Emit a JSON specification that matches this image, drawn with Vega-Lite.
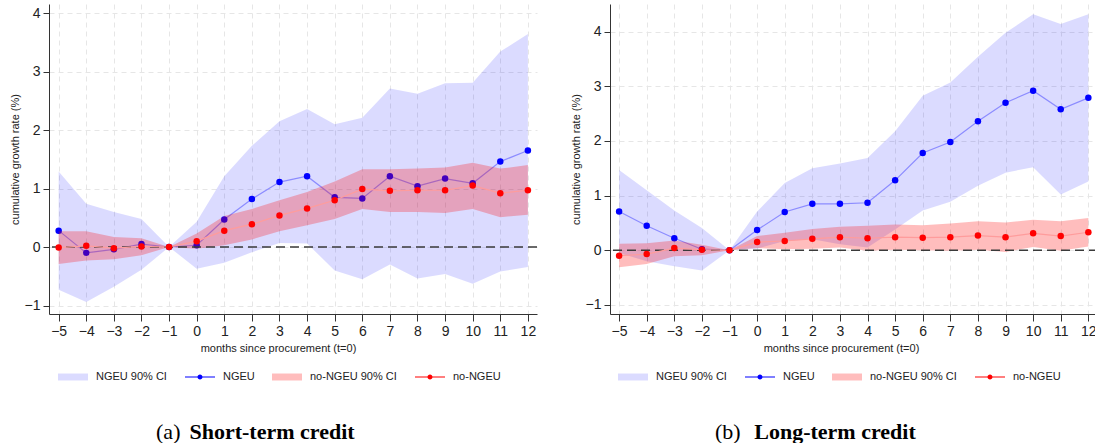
{
  "$schema": "https://vega.github.io/schema/vega-lite/v6.json",
  "background": "white",
  "padding": {"left": 9, "top": 4, "right": 0, "bottom": 0},
  "datasets": {
    "d": [
      {"p": "a", "s": "NGEU", "ci": "NGEU 90% CI", "m": -5, "est": 0.28, "lo": -0.73, "hi": 1.29},
      {"p": "a", "s": "NGEU", "ci": "NGEU 90% CI", "m": -4, "est": -0.10, "lo": -0.94, "hi": 0.74},
      {"p": "a", "s": "NGEU", "ci": "NGEU 90% CI", "m": -3, "est": -0.04, "lo": -0.68, "hi": 0.60},
      {"p": "a", "s": "NGEU", "ci": "NGEU 90% CI", "m": -2, "est": 0.05, "lo": -0.39, "hi": 0.48},
      {"p": "a", "s": "NGEU", "ci": "NGEU 90% CI", "m": -1, "est": 0, "lo": 0, "hi": 0},
      {"p": "a", "s": "NGEU", "ci": "NGEU 90% CI", "m": 0, "est": 0.03, "lo": -0.37, "hi": 0.43},
      {"p": "a", "s": "NGEU", "ci": "NGEU 90% CI", "m": 1, "est": 0.47, "lo": -0.27, "hi": 1.21},
      {"p": "a", "s": "NGEU", "ci": "NGEU 90% CI", "m": 2, "est": 0.82, "lo": -0.09, "hi": 1.73},
      {"p": "a", "s": "NGEU", "ci": "NGEU 90% CI", "m": 3, "est": 1.11, "lo": 0.07, "hi": 2.15},
      {"p": "a", "s": "NGEU", "ci": "NGEU 90% CI", "m": 4, "est": 1.21, "lo": 0.06, "hi": 2.36},
      {"p": "a", "s": "NGEU", "ci": "NGEU 90% CI", "m": 5, "est": 0.85, "lo": -0.40, "hi": 2.10},
      {"p": "a", "s": "NGEU", "ci": "NGEU 90% CI", "m": 6, "est": 0.83, "lo": -0.55, "hi": 2.21},
      {"p": "a", "s": "NGEU", "ci": "NGEU 90% CI", "m": 7, "est": 1.21, "lo": -0.30, "hi": 2.71},
      {"p": "a", "s": "NGEU", "ci": "NGEU 90% CI", "m": 8, "est": 1.04, "lo": -0.54, "hi": 2.62},
      {"p": "a", "s": "NGEU", "ci": "NGEU 90% CI", "m": 9, "est": 1.17, "lo": -0.46, "hi": 2.80},
      {"p": "a", "s": "NGEU", "ci": "NGEU 90% CI", "m": 10, "est": 1.09, "lo": -0.63, "hi": 2.81},
      {"p": "a", "s": "NGEU", "ci": "NGEU 90% CI", "m": 11, "est": 1.46, "lo": -0.42, "hi": 3.34},
      {"p": "a", "s": "NGEU", "ci": "NGEU 90% CI", "m": 12, "est": 1.65, "lo": -0.34, "hi": 3.64},
      {"p": "a", "s": "no-NGEU", "ci": "no-NGEU 90% CI", "m": -5, "est": -0.01, "lo": -0.29, "hi": 0.27},
      {"p": "a", "s": "no-NGEU", "ci": "no-NGEU 90% CI", "m": -4, "est": 0.02, "lo": -0.23, "hi": 0.27},
      {"p": "a", "s": "no-NGEU", "ci": "no-NGEU 90% CI", "m": -3, "est": -0.02, "lo": -0.21, "hi": 0.17},
      {"p": "a", "s": "no-NGEU", "ci": "no-NGEU 90% CI", "m": -2, "est": 0.01, "lo": -0.14, "hi": 0.15},
      {"p": "a", "s": "no-NGEU", "ci": "no-NGEU 90% CI", "m": -1, "est": 0, "lo": 0, "hi": 0},
      {"p": "a", "s": "no-NGEU", "ci": "no-NGEU 90% CI", "m": 0, "est": 0.10, "lo": -0.03, "hi": 0.23},
      {"p": "a", "s": "no-NGEU", "ci": "no-NGEU 90% CI", "m": 1, "est": 0.28, "lo": 0.03, "hi": 0.53},
      {"p": "a", "s": "no-NGEU", "ci": "no-NGEU 90% CI", "m": 2, "est": 0.39, "lo": 0.13, "hi": 0.65},
      {"p": "a", "s": "no-NGEU", "ci": "no-NGEU 90% CI", "m": 3, "est": 0.54, "lo": 0.27, "hi": 0.80},
      {"p": "a", "s": "no-NGEU", "ci": "no-NGEU 90% CI", "m": 4, "est": 0.66, "lo": 0.37, "hi": 0.94},
      {"p": "a", "s": "no-NGEU", "ci": "no-NGEU 90% CI", "m": 5, "est": 0.80, "lo": 0.48, "hi": 1.12},
      {"p": "a", "s": "no-NGEU", "ci": "no-NGEU 90% CI", "m": 6, "est": 0.99, "lo": 0.65, "hi": 1.33},
      {"p": "a", "s": "no-NGEU", "ci": "no-NGEU 90% CI", "m": 7, "est": 0.96, "lo": 0.60, "hi": 1.33},
      {"p": "a", "s": "no-NGEU", "ci": "no-NGEU 90% CI", "m": 8, "est": 0.97, "lo": 0.60, "hi": 1.34},
      {"p": "a", "s": "no-NGEU", "ci": "no-NGEU 90% CI", "m": 9, "est": 0.97, "lo": 0.58, "hi": 1.36},
      {"p": "a", "s": "no-NGEU", "ci": "no-NGEU 90% CI", "m": 10, "est": 1.05, "lo": 0.65, "hi": 1.44},
      {"p": "a", "s": "no-NGEU", "ci": "no-NGEU 90% CI", "m": 11, "est": 0.92, "lo": 0.51, "hi": 1.34},
      {"p": "a", "s": "no-NGEU", "ci": "no-NGEU 90% CI", "m": 12, "est": 0.97, "lo": 0.55, "hi": 1.40},
      {"p": "b", "s": "NGEU", "ci": "NGEU 90% CI", "m": -5, "est": 0.71, "lo": -0.05, "hi": 1.47},
      {"p": "b", "s": "NGEU", "ci": "NGEU 90% CI", "m": -4, "est": 0.45, "lo": -0.20, "hi": 1.10},
      {"p": "b", "s": "NGEU", "ci": "NGEU 90% CI", "m": -3, "est": 0.22, "lo": -0.29, "hi": 0.73},
      {"p": "b", "s": "NGEU", "ci": "NGEU 90% CI", "m": -2, "est": 0.02, "lo": -0.37, "hi": 0.41},
      {"p": "b", "s": "NGEU", "ci": "NGEU 90% CI", "m": -1, "est": 0, "lo": 0, "hi": 0},
      {"p": "b", "s": "NGEU", "ci": "NGEU 90% CI", "m": 0, "est": 0.37, "lo": 0.03, "hi": 0.71},
      {"p": "b", "s": "NGEU", "ci": "NGEU 90% CI", "m": 1, "est": 0.70, "lo": 0.17, "hi": 1.23},
      {"p": "b", "s": "NGEU", "ci": "NGEU 90% CI", "m": 2, "est": 0.85, "lo": 0.20, "hi": 1.50},
      {"p": "b", "s": "NGEU", "ci": "NGEU 90% CI", "m": 3, "est": 0.85, "lo": 0.11, "hi": 1.59},
      {"p": "b", "s": "NGEU", "ci": "NGEU 90% CI", "m": 4, "est": 0.87, "lo": 0.05, "hi": 1.69},
      {"p": "b", "s": "NGEU", "ci": "NGEU 90% CI", "m": 5, "est": 1.28, "lo": 0.38, "hi": 2.18},
      {"p": "b", "s": "NGEU", "ci": "NGEU 90% CI", "m": 6, "est": 1.78, "lo": 0.73, "hi": 2.83},
      {"p": "b", "s": "NGEU", "ci": "NGEU 90% CI", "m": 7, "est": 1.98, "lo": 0.89, "hi": 3.07},
      {"p": "b", "s": "NGEU", "ci": "NGEU 90% CI", "m": 8, "est": 2.36, "lo": 1.18, "hi": 3.54},
      {"p": "b", "s": "NGEU", "ci": "NGEU 90% CI", "m": 9, "est": 2.70, "lo": 1.42, "hi": 3.98},
      {"p": "b", "s": "NGEU", "ci": "NGEU 90% CI", "m": 10, "est": 2.92, "lo": 1.52, "hi": 4.32},
      {"p": "b", "s": "NGEU", "ci": "NGEU 90% CI", "m": 11, "est": 2.58, "lo": 1.02, "hi": 4.14},
      {"p": "b", "s": "NGEU", "ci": "NGEU 90% CI", "m": 12, "est": 2.79, "lo": 1.26, "hi": 4.32},
      {"p": "b", "s": "no-NGEU", "ci": "no-NGEU 90% CI", "m": -5, "est": -0.10, "lo": -0.31, "hi": 0.12},
      {"p": "b", "s": "no-NGEU", "ci": "no-NGEU 90% CI", "m": -4, "est": -0.07, "lo": -0.25, "hi": 0.13},
      {"p": "b", "s": "no-NGEU", "ci": "no-NGEU 90% CI", "m": -3, "est": 0.04, "lo": -0.11, "hi": 0.18},
      {"p": "b", "s": "no-NGEU", "ci": "no-NGEU 90% CI", "m": -2, "est": 0.01, "lo": -0.09, "hi": 0.10},
      {"p": "b", "s": "no-NGEU", "ci": "no-NGEU 90% CI", "m": -1, "est": 0, "lo": 0, "hi": 0},
      {"p": "b", "s": "no-NGEU", "ci": "no-NGEU 90% CI", "m": 0, "est": 0.15, "lo": 0.04, "hi": 0.26},
      {"p": "b", "s": "no-NGEU", "ci": "no-NGEU 90% CI", "m": 1, "est": 0.17, "lo": 0.02, "hi": 0.32},
      {"p": "b", "s": "no-NGEU", "ci": "no-NGEU 90% CI", "m": 2, "est": 0.21, "lo": 0.03, "hi": 0.39},
      {"p": "b", "s": "no-NGEU", "ci": "no-NGEU 90% CI", "m": 3, "est": 0.24, "lo": 0.05, "hi": 0.43},
      {"p": "b", "s": "no-NGEU", "ci": "no-NGEU 90% CI", "m": 4, "est": 0.22, "lo": -0.01, "hi": 0.45},
      {"p": "b", "s": "no-NGEU", "ci": "no-NGEU 90% CI", "m": 5, "est": 0.24, "lo": 0.01, "hi": 0.47},
      {"p": "b", "s": "no-NGEU", "ci": "no-NGEU 90% CI", "m": 6, "est": 0.23, "lo": 0.00, "hi": 0.46},
      {"p": "b", "s": "no-NGEU", "ci": "no-NGEU 90% CI", "m": 7, "est": 0.24, "lo": -0.01, "hi": 0.49},
      {"p": "b", "s": "no-NGEU", "ci": "no-NGEU 90% CI", "m": 8, "est": 0.27, "lo": 0.01, "hi": 0.53},
      {"p": "b", "s": "no-NGEU", "ci": "no-NGEU 90% CI", "m": 9, "est": 0.24, "lo": -0.03, "hi": 0.51},
      {"p": "b", "s": "no-NGEU", "ci": "no-NGEU 90% CI", "m": 10, "est": 0.31, "lo": 0.06, "hi": 0.56},
      {"p": "b", "s": "no-NGEU", "ci": "no-NGEU 90% CI", "m": 11, "est": 0.26, "lo": -0.01, "hi": 0.53},
      {"p": "b", "s": "no-NGEU", "ci": "no-NGEU 90% CI", "m": 12, "est": 0.33, "lo": 0.07, "hi": 0.59}
    ]
  },
  "data": {"name": "d"},
  "resolve": {"scale": {"color": "independent", "fill": "independent"}, "legend": {"color": "independent", "fill": "independent"}},
  "spacing": 32,
  "hconcat": [
    {
      "resolve": {"scale": {"color": "independent", "fill": "independent"}, "legend": {"color": "independent", "fill": "independent"}},
      "title": {"text": "(a)", "orient": "bottom", "anchor": "start", "frame": "bounds", "font": "Liberation Serif", "fontSize": 22, "fontWeight": "normal", "color": "#000", "baseline": "alphabetic", "offset": -4, "dx": 147},
      "vconcat": [
        {
          "width": 488,
          "height": 310,
          "title": {"text": "Short-term credit", "orient": "bottom", "anchor": "middle", "frame": "group", "font": "Liberation Serif", "fontSize": 22, "fontWeight": "bold", "color": "#000", "baseline": "alphabetic", "offset": 57, "dx": -21},
          "layer": [
            {
              "transform": [{"filter": "datum.p == 'a' && datum.s == 'NGEU'"}],
              "mark": {"type": "area", "opacity": 1},
              "encoding": {
                "x": {"field": "m", "type": "quantitative", "scale": {"domain": [-5.35, 12.33], "nice": false, "zero": false},
                  "axis": {"values": [-5,-4,-3,-2,-1,0,1,2,3,4,5,6,7,8,9,10,11,12], "tickCount": 40, "format": "d", "title": "months since procurement (t=0)", "titleX": 229, "labelPadding": 3, "titlePadding": 4, "tickSize": 7, "labelOverlap": false, "labelFlush": false, "labelBound": false}},
                "y": {"field": "lo", "type": "quantitative", "scale": {"domain": [-1.145, 4.154], "nice": false, "zero": false},
                  "axis": {"values": [-1,0,1,2,3,4], "tickCount": 20, "format": "d", "title": "cumulative growth rate (%)", "labelPadding": 3, "titlePadding": 4, "labelOverlap": false, "labelFlush": false}},
                "y2": {"field": "hi"},
                "fill": {"field": "ci", "type": "nominal",
                  "scale": {"domain": ["NGEU 90% CI", "no-NGEU 90% CI"], "range": ["rgba(0,0,255,0.14)", "rgba(255,0,0,0.26)"]},
                  "legend": {"orient": "none", "legendX": 9, "legendY": 358, "direction": "horizontal", "title": null, "symbolType": "M-1,-0.233H1V0.233H-1Z", "symbolSize": 900, "symbolStrokeWidth": 0, "labelFont": "Liberation Sans", "labelFontSize": 11, "labelColor": "#222", "labelOffset": 8, "columnPadding": 105, "padding": 0}}
              }
            },
            {
              "transform": [{"filter": "datum.p == 'a' && datum.s == 'NGEU'"}],
              "mark": {"type": "line", "strokeWidth": 1.2, "color": "#8c8cff"},
              "encoding": {
                "x": {"field": "m", "type": "quantitative"},
                "y": {"field": "est", "type": "quantitative"}
              }
            },
            {
              "transform": [{"filter": "datum.p == 'a' && datum.s == 'NGEU'"}],
              "mark": {"type": "point", "filled": true, "size": 42, "opacity": 1},
              "encoding": {
                "x": {"field": "m", "type": "quantitative"},
                "y": {"field": "est", "type": "quantitative"},
                "color": {"field": "s", "type": "nominal",
                  "scale": {"domain": ["NGEU", "no-NGEU"], "range": ["#0000ff", "#ff0000"]},
                  "legend": {"orient": "none", "legendX": 136, "legendY": 358, "direction": "horizontal", "title": null, "symbolType": "M-1,-0.03H1V0.03H-1Z M-0.167,0A0.167,0.167,0,1,1,0.167,0A0.167,0.167,0,1,1,-0.167,0Z", "symbolSize": 900, "symbolStrokeWidth": 0, "symbolOpacity": 1, "labelFont": "Liberation Sans", "labelFontSize": 11, "labelColor": "#222", "labelOffset": 8, "columnPadding": 160, "padding": 0}}
              }
            },
            {
              "transform": [{"filter": "datum.p == 'a' && datum.s == 'no-NGEU'"}],
              "mark": {"type": "area", "opacity": 1},
              "encoding": {
                "x": {"field": "m", "type": "quantitative"},
                "y": {"field": "lo", "type": "quantitative"},
                "y2": {"field": "hi"},
                "fill": {"field": "ci", "type": "nominal"}
              }
            },
            {
              "data": {"values": [{}]},
              "mark": {"type": "rule", "strokeDash": [9, 5], "strokeWidth": 1.5, "color": "#3a3a3a"},
              "encoding": {"y": {"datum": 0, "type": "quantitative"}}
            },
            {
              "transform": [{"filter": "datum.p == 'a' && datum.s == 'no-NGEU'"}],
              "mark": {"type": "line", "strokeWidth": 1.2, "color": "#ff9c9c"},
              "encoding": {
                "x": {"field": "m", "type": "quantitative"},
                "y": {"field": "est", "type": "quantitative"}
              }
            },
            {
              "transform": [{"filter": "datum.p == 'a' && datum.s == 'no-NGEU'"}],
              "mark": {"type": "point", "filled": true, "size": 42, "opacity": 1},
              "encoding": {
                "x": {"field": "m", "type": "quantitative"},
                "y": {"field": "est", "type": "quantitative"},
                "color": {"field": "s", "type": "nominal"}
              }
            }
          ]
        }
      ]
    },
    {
      "resolve": {"scale": {"color": "independent", "fill": "independent"}, "legend": {"color": "independent", "fill": "independent"}},
      "title": {"text": "(b)", "orient": "bottom", "anchor": "start", "frame": "bounds", "font": "Liberation Serif", "fontSize": 22, "fontWeight": "normal", "color": "#000", "baseline": "alphabetic", "offset": -4, "dx": 145},
      "vconcat": [
        {
          "width": 488,
          "height": 310,
          "title": {"text": "Long-term credit", "orient": "bottom", "anchor": "middle", "frame": "group", "font": "Liberation Serif", "fontSize": 22, "fontWeight": "bold", "color": "#000", "baseline": "alphabetic", "offset": 57, "dx": -19},
          "layer": [
            {
              "transform": [{"filter": "datum.p == 'b' && datum.s == 'NGEU'"}],
              "mark": {"type": "area", "opacity": 1},
              "encoding": {
                "x": {"field": "m", "type": "quantitative", "scale": {"domain": [-5.33, 12.35], "nice": false, "zero": false},
                  "axis": {"values": [-5,-4,-3,-2,-1,0,1,2,3,4,5,6,7,8,9,10,11,12], "tickCount": 40, "format": "d", "title": "months since procurement (t=0)", "titleX": 231, "labelPadding": 3, "titlePadding": 4, "tickSize": 7, "labelOverlap": false, "labelFlush": false, "labelBound": false}},
                "y": {"field": "lo", "type": "quantitative", "scale": {"domain": [-1.166, 4.507], "nice": false, "zero": false},
                  "axis": {"values": [-1,0,1,2,3,4], "tickCount": 20, "format": "d", "title": "cumulative growth rate (%)", "labelPadding": 3, "titlePadding": 4, "labelOverlap": false, "labelFlush": false}},
                "y2": {"field": "hi"},
                "fill": {"field": "ci", "type": "nominal",
                  "scale": {"domain": ["NGEU 90% CI", "no-NGEU 90% CI"], "range": ["rgba(0,0,255,0.14)", "rgba(255,0,0,0.26)"]},
                  "legend": {"orient": "none", "legendX": 8, "legendY": 358, "direction": "horizontal", "title": null, "symbolType": "M-1,-0.233H1V0.233H-1Z", "symbolSize": 900, "symbolStrokeWidth": 0, "labelFont": "Liberation Sans", "labelFontSize": 11, "labelColor": "#222", "labelOffset": 8, "columnPadding": 105, "padding": 0}}
              }
            },
            {
              "transform": [{"filter": "datum.p == 'b' && datum.s == 'NGEU'"}],
              "mark": {"type": "line", "strokeWidth": 1.2, "color": "#8c8cff"},
              "encoding": {
                "x": {"field": "m", "type": "quantitative"},
                "y": {"field": "est", "type": "quantitative"}
              }
            },
            {
              "transform": [{"filter": "datum.p == 'b' && datum.s == 'NGEU'"}],
              "mark": {"type": "point", "filled": true, "size": 42, "opacity": 1},
              "encoding": {
                "x": {"field": "m", "type": "quantitative"},
                "y": {"field": "est", "type": "quantitative"},
                "color": {"field": "s", "type": "nominal",
                  "scale": {"domain": ["NGEU", "no-NGEU"], "range": ["#0000ff", "#ff0000"]},
                  "legend": {"orient": "none", "legendX": 135, "legendY": 358, "direction": "horizontal", "title": null, "symbolType": "M-1,-0.03H1V0.03H-1Z M-0.167,0A0.167,0.167,0,1,1,0.167,0A0.167,0.167,0,1,1,-0.167,0Z", "symbolSize": 900, "symbolStrokeWidth": 0, "symbolOpacity": 1, "labelFont": "Liberation Sans", "labelFontSize": 11, "labelColor": "#222", "labelOffset": 8, "columnPadding": 160, "padding": 0}}
              }
            },
            {
              "transform": [{"filter": "datum.p == 'b' && datum.s == 'no-NGEU'"}],
              "mark": {"type": "area", "opacity": 1},
              "encoding": {
                "x": {"field": "m", "type": "quantitative"},
                "y": {"field": "lo", "type": "quantitative"},
                "y2": {"field": "hi"},
                "fill": {"field": "ci", "type": "nominal"}
              }
            },
            {
              "data": {"values": [{}]},
              "mark": {"type": "rule", "strokeDash": [9, 5], "strokeWidth": 1.5, "color": "#3a3a3a"},
              "encoding": {"y": {"datum": 0, "type": "quantitative"}}
            },
            {
              "transform": [{"filter": "datum.p == 'b' && datum.s == 'no-NGEU'"}],
              "mark": {"type": "line", "strokeWidth": 1.2, "color": "#ff9c9c"},
              "encoding": {
                "x": {"field": "m", "type": "quantitative"},
                "y": {"field": "est", "type": "quantitative"}
              }
            },
            {
              "transform": [{"filter": "datum.p == 'b' && datum.s == 'no-NGEU'"}],
              "mark": {"type": "point", "filled": true, "size": 42, "opacity": 1},
              "encoding": {
                "x": {"field": "m", "type": "quantitative"},
                "y": {"field": "est", "type": "quantitative"},
                "color": {"field": "s", "type": "nominal"}
              }
            }
          ]
        }
      ]
    }
  ],
  "config": {
    "view": {"stroke": null},
    "font": "Liberation Sans",
    "axis": {
      "domainColor": "#333", "domainWidth": 1, "tickColor": "#333", "tickSize": 6,
      "labelColor": "#222", "labelFontSize": 14, "labelFont": "Liberation Sans",
      "titleFont": "Liberation Sans", "titleFontSize": 11, "titleFontWeight": "normal", "titleColor": "#222",
      "grid": true, "gridColor": "#e6e6e6", "gridDash": [5, 4], "gridWidth": 1
    }
  }
}
